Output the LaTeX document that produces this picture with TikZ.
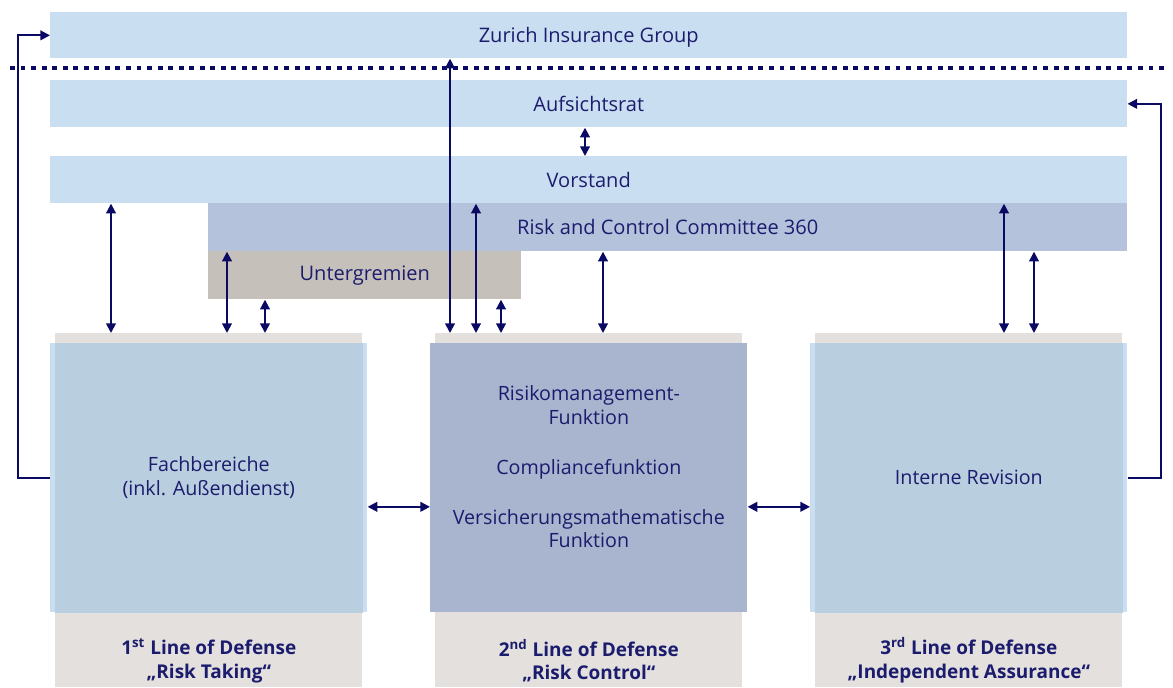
\documentclass[tikz,border=0pt]{standalone}
\usepackage{fontspec}
\setmainfont{Open Sans}
\usetikzlibrary{arrows.meta,calc,positioning}

\definecolor{barblue}{RGB}{201,222,241}
\definecolor{rccblue}{RGB}{180,194,219}
\definecolor{ugbeige}{RGB}{198,192,186}
\definecolor{colgray}{RGB}{227,224,221}
\definecolor{boxover}{RGB}{185,206,222}
\definecolor{midblue}{RGB}{169,180,207}
\definecolor{navytext}{RGB}{28,28,110}
\definecolor{navyline}{RGB}{10,10,100}

\tikzset{
  bar/.style={anchor=north west, fill=barblue, text=navytext, inner sep=0pt,
    minimum width=21.54cm, minimum height=0.94cm, font=\fontsize{11.4}{13}\selectfont},
  colbg/.style={anchor=north west, fill=colgray, inner sep=0pt,
    minimum width=6.14cm, minimum height=7.08cm},
  colbox/.style={anchor=north west, fill=barblue, inner sep=0pt,
    minimum width=6.34cm, minimum height=5.38cm},
  coltext/.style={text=navytext, align=center, inner sep=0pt,
    font=\fontsize{11.2}{13.6}\selectfont},
  collabel/.style={text=navytext, align=center, inner sep=0pt,
    font=\bfseries\fontsize{10.8}{13.6}\selectfont},
  dbl/.style={{Triangle[length=5.5pt,width=5.5pt]}-{Triangle[length=5.5pt,width=5.5pt]},
    draw=navyline, line width=1.1pt},
  conn/.style={-{Triangle[length=5.5pt,width=5.5pt]}, draw=navyline, line width=1.1pt},
}

\begin{document}
\begin{tikzpicture}[x=0.02cm,y=-0.02cm]
\useasboundingbox (0,0) rectangle (1173,687);

% bars at the top
\node[bar, minimum height=0.92cm, text depth=0.8pt] (zig) at (50,12) {Zurich Insurance Group};
\draw[navyline, line width=2.8pt, dash pattern=on 2.8pt off 3.2pt] (10,68) -- (1168,68);
\node[bar] (ar) at (50,80) {Aufsichtsrat};
\node[bar] (vs) at (50,156) {Vorstand};
\node[bar, fill=rccblue, minimum width=18.38cm, minimum height=0.96cm] (rcc) at (208,203)
  {Risk and Control Committee 360};
\node[bar, fill=ugbeige, minimum width=6.26cm, minimum height=0.96cm] (ug) at (208,251)
  {Untergremien};

% three lines of defense
\node[colbg] (lbg) at (55,333) {};
\node[colbg] (mbg) at (435,333) {};
\node[colbg] (rbg) at (815,333) {};

\node[colbox] (lbox) at (50,343) {};
\fill[boxover] (lbg.west |- lbox.north) rectangle (lbg.east |- lbox.south);
\node[coltext] (ltext) at (lbox.center) {Fachbereiche\\(inkl. Außendienst)};

\node[colbox, fill=midblue] (mbox) at (430,343) {};
\node[coltext] (mtext) at ($(mbox.center)+(0,-11)$)
  {Risikomanagement-\\Funktion\\[0.52cm]Compliancefunktion\\[0.52cm]Versicherungsmathematische\\Funktion};

\node[colbox] (rbox) at (810,343) {};
\fill[boxover] (rbg.west |- rbox.north) rectangle (rbg.east |- rbox.south);
\node[coltext] (rtext) at (rbox.center) {Interne Revision};

\node[collabel] (llabel) at ($(lbg.south)+(0,-27)$) {1\textsuperscript{st} Line of Defense\\„Risk Taking“};
\node[collabel] (mlabel) at ($(mbg.south)+(0,-27)$) {2\textsuperscript{nd} Line of Defense\\„Risk Control“};
\node[collabel] (rlabel) at ($(rbg.south)+(0,-27)$) {3\textsuperscript{rd} Line of Defense\\„Independent Assurance“};

% vertical connectors
\draw[dbl] (ar.south -| 585,0) -- (vs.north -| 585,0);
\draw[dbl] ($(lbg.north west)+(56,0)$) coordinate (l1) -- (l1 |- vs.south);
\draw[dbl] ($(lbg.north west)+(172,0)$) coordinate (l2) -- (l2 |- rcc.south);
\draw[dbl] ($(lbg.north west)+(210,0)$) coordinate (l3) -- (l3 |- ug.south);
\draw[dbl] ($(mbg.north west)+(15,0)$) coordinate (m1) -- (m1 |- zig.south);
\draw[dbl] ($(mbg.north west)+(41,0)$) coordinate (m2) -- (m2 |- vs.south);
\draw[dbl] ($(mbg.north west)+(66,0)$) coordinate (m3) -- (m3 |- ug.south);
\draw[dbl] ($(mbg.north west)+(168,0)$) coordinate (m4) -- (m4 |- rcc.south);
\draw[dbl] ($(rbg.north west)+(189,0)$) coordinate (r1) -- (r1 |- vs.south);
\draw[dbl] ($(rbg.north west)+(219,0)$) coordinate (r2) -- (r2 |- rcc.south);

% horizontal connectors
\draw[dbl] ($(lbox.east)+(0,29)$) coordinate (h1) -- (h1 -| mbox.west);
\draw[dbl] ($(mbox.east)+(0,29)$) coordinate (h2) -- (h2 -| rbox.west);

% reporting lines
\draw[conn] (lbox.west) -- ++(-32,0) |- (zig.west);
\draw[conn] (rbox.east) -- ++(33,0) |- (ar.east);
\end{tikzpicture}
\end{document}
